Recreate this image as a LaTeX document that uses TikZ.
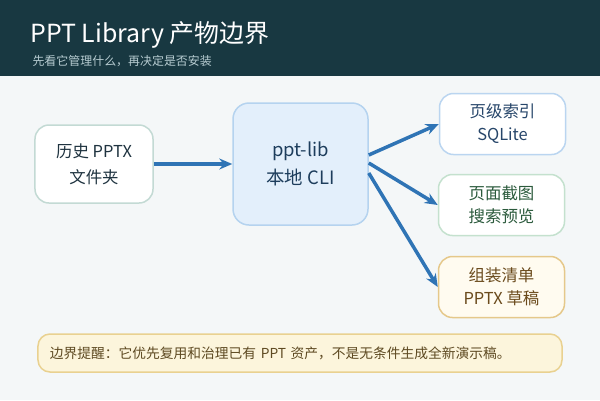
\documentclass[tikz,border=0pt]{standalone}
\usepackage{fontspec}
\setmainfont{Noto Sans CJK SC}
\usepackage{tikz}
\usetikzlibrary{arrows.meta, calc, positioning}
\usepackage{xcolor}

\definecolor{headbg}{HTML}{183841}
\definecolor{subtxt}{HTML}{B7CCD1}
\definecolor{pagebg}{HTML}{F4F7F8}
\definecolor{flowblue}{HTML}{2F74B5}
\definecolor{srcline}{HTML}{C3DAD4}
\definecolor{srctxt}{HTML}{1F3340}
\definecolor{clifill}{HTML}{E3EFFB}
\definecolor{cliline}{HTML}{B5D3EF}
\definecolor{clitxt}{HTML}{1D3D5C}
\definecolor{idxline}{HTML}{BAD5F0}
\definecolor{idxtxt}{HTML}{27466A}
\definecolor{prvline}{HTML}{C4E1CE}
\definecolor{prvtxt}{HTML}{2B5A3C}
\definecolor{drfline}{HTML}{E5C88A}
\definecolor{drffill}{HTML}{FFFBF0}
\definecolor{drftxt}{HTML}{6A4A1C}
\definecolor{notefill}{HTML}{FCF5DC}
\definecolor{noteline}{HTML}{E9D190}
\definecolor{notetxt}{HTML}{5E4A22}

\begin{document}
\begin{tikzpicture}[x=1bp, y=-1bp,
    box/.style={rounded corners=14bp, line width=1.5bp, align=center, fill=white},
    outbox/.style={box, minimum width=126bp, minimum height=61bp,
        font=\fontsize{16.5}{23}\selectfont},
    flow/.style={flowblue, line width=3.5bp, -{Stealth[length=13bp, width=11bp]}}]
    % 背景与标题栏
    \useasboundingbox (0,0) rectangle (600,400);
    \fill[pagebg] (0,0) rectangle (600,400);
    \fill[headbg] (0,0) rectangle (600,76);
    \node[anchor=west, white, font=\fontsize{25}{28}\selectfont] (title) at (27,35) {PPT Library 产物边界};
    \node[anchor=west, subtxt, font=\fontsize{12}{14}\selectfont] (subtitle) at (29,61) {先看它管理什么，再决定是否安装};

    % 输入与核心
    \node[box, draw=srcline, text=srctxt, minimum width=118bp, minimum height=78bp,
        font=\fontsize{16.5}{26}\selectfont] (src) at (94,164) {历史 PPTX\\文件夹};
    \node[box, draw=cliline, fill=clifill, text=clitxt, minimum width=135bp, minimum height=122bp,
        rounded corners=16bp, font=\fontsize{18.5}{28}\selectfont] (cli) at (300.5,164) {ppt-lib\\本地 CLI};

    % 产物
    \node[outbox, draw=idxline, text=idxtxt] (index) at (502.5,124) {页级索引\\SQLite};
    \node[outbox, draw=prvline, text=prvtxt] (preview) at (501.5,205) {页面截图\\搜索预览};
    \node[outbox, draw=drfline, fill=drffill, text=drftxt] (draft) at (501.5,287) {组装清单\\PPTX 草稿};

    % 连线
    \draw[flow] (src.east) -- (cli.west);
    \foreach \dy/\target in {9/index, 1/preview, -9/draft} {
        \draw[flow] ([yshift=\dy bp]cli.east) -- (\target.west);
    }

    % 边界提醒
    \node[box, draw=noteline, fill=notefill, text=notetxt, rounded corners=12bp,
        minimum width=524bp, minimum height=38bp, text width=500bp, align=left,
        font=\fontsize{13.8}{16}\selectfont] (note) at (300,353)
        {边界提醒：它优先复用和治理已有 PPT 资产，不是无条件生成全新演示稿。};
\end{tikzpicture}
\end{document}
